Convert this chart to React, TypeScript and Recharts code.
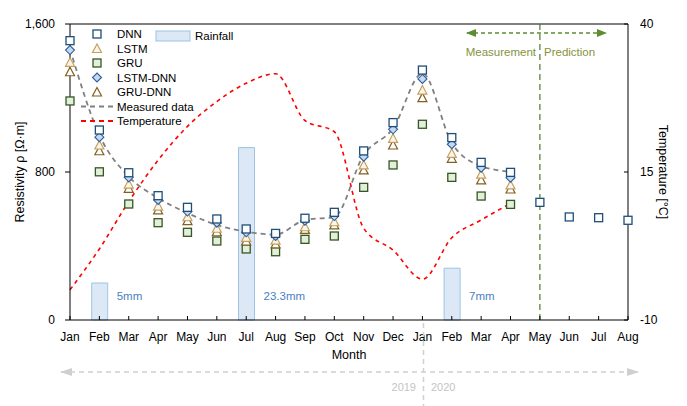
import React from 'react'
import {
  ComposedChart,
  Line,
  Bar,
  XAxis,
  YAxis,
  ReferenceLine,
  LabelList,
} from 'recharts'

const months = [
  'Jan', 'Feb', 'Mar', 'Apr', 'May', 'Jun', 'Jul', 'Aug', 'Sep', 'Oct', 'Nov', 'Dec',
  'Jan', 'Feb', 'Mar', 'Apr', 'May', 'Jun', 'Jul', 'Aug',
]

const dnn = [1510, 1027, 796, 672, 609, 546, 492, 468, 550, 582, 914, 1067, 1351, 986, 852, 798, 636, 557, 553, 539]
const lstmDnn = [1459, 988, 771, 649, 586, 526, 474, 454, 537, 562, 883, 1031, 1303, 950, 823, 769, null, null, null, null]
const lstm = [1393, 946, 735, 616, 558, 496, 447, 432, 504, 531, 838, 982, 1243, 901, 788, 730, null, null, null, null]
const gruDnn = [1342, 915, 712, 595, 537, 477, 427, 411, 490, 514, 811, 946, 1202, 874, 757, 708, null, null, null, null]
const gru = [1184, 801, 627, 526, 474, 427, 384, 369, 436, 454, 717, 838, 1058, 771, 670, 625, null, null, null, null]
const measured = [1465, 1000, 775, 659, 578, 514, 477, 462, 541, 557, 892, 1036, 1333, 957, 832, 802, null, null, null, null]
const temperature = [-4.9, 2.0, 10.0, 17.0, 22.7, 26.9, 30.0, 31.6, 23.7, 21.8, 5.5, 1.8, -3.1, 3.9, 6.9, 9.7, null, null, null, null]
const rainfall = [null, 5, null, null, null, null, 23.3, null, null, null, null, null, null, 7, null, null, null, null, null, null]

const resTicks = [0, 800, 1600]
const tempTicks = [-10, 15, 40]

const data = months.map((m, i) => ({
  idx: i,
  month: m,
  dnn: dnn[i],
  lstmDnn: lstmDnn[i],
  lstm: lstm[i],
  gruDnn: gruDnn[i],
  gru: gru[i],
  measured: measured[i],
  temperature: temperature[i],
  rainfall: rainfall[i],
}))

const FONT = '"Liberation Sans", Arial, sans-serif'

const Square = ({ cx, cy, stroke, fill }: any) => (
  <rect x={cx - 4} y={cy - 4} width={8} height={8} stroke={stroke} strokeWidth={1.3} fill={fill} />
)
const Diamond = ({ cx, cy, stroke, fill }: any) => (
  <polygon points={`${cx},${cy - 4.5} ${cx + 4.5},${cy} ${cx},${cy + 4.5} ${cx - 4.5},${cy}`} stroke={stroke} strokeWidth={1.1} fill={fill} />
)
const Triangle = ({ cx, cy, stroke, fill }: any) => (
  <polygon points={`${cx},${cy - 4.5} ${cx + 4.5},${cy + 4} ${cx - 4.5},${cy + 4}`} stroke={stroke} strokeWidth={1.2} fill={fill} />
)

const marker = (Shape: any, stroke: string, fill: string) => (p: any) => {
  if (p.cy == null || p.value == null) return <g key={p.key} />
  return <Shape key={p.key} cx={p.cx} cy={p.cy} stroke={stroke} fill={fill} />
}

const rainLabel = (p: any) => {
  const { x, y, width, height, value } = p
  if (value == null) return null
  return (
    <text x={x + width + 9} y={y + height - 20} fill="#4a7fc1" fontSize={11.5} fontFamily={FONT}>
      {value}mm
    </text>
  )
}

function Overlay() {
  const rows = [
    { name: 'DNN', shape: <Square cx={97} cy={34} stroke="#1f4e79" fill="#fff" /> },
    { name: 'LSTM', shape: <Triangle cx={97} cy={48.5} stroke="#c4a060" fill="#fbf5ea" /> },
    { name: 'GRU', shape: <Square cx={97} cy={63} stroke="#375623" fill="#e2efda" /> },
    { name: 'LSTM-DNN', shape: <Diamond cx={97} cy={77.5} stroke="#2f5f98" fill="#c5d9f1" /> },
    { name: 'GRU-DNN', shape: <Triangle cx={97} cy={92} stroke="#806020" fill="#fff" /> },
    { name: 'Measured data', shape: <line x1={81} x2={113} y1={106.5} y2={106.5} stroke="#808080" strokeWidth={1.8} strokeDasharray="5 4" /> },
    { name: 'Temperature', shape: <line x1={81} x2={113} y1={121} y2={121} stroke="#ff0000" strokeWidth={1.8} strokeDasharray="5 4" /> },
  ]
  return (
    <svg width={687} height={406} style={{ position: 'absolute', left: 0, top: 0, pointerEvents: 'none' }}>
      <defs>
        <marker id="gArrow" markerWidth="10" markerHeight="8" refX="9" refY="4" orient="auto-start-reverse" markerUnits="userSpaceOnUse">
          <path d="M0,0 L10,4 L0,8 z" fill="#5e8c31" />
        </marker>
        <marker id="grArrow" markerWidth="12" markerHeight="8" refX="11" refY="4" orient="auto-start-reverse" markerUnits="userSpaceOnUse">
          <path d="M0,0 L12,4 L0,8 z" fill="#cfcfcf" />
        </marker>
      </defs>
      {rows.map((r, i) => (
        <g key={r.name}>
          {r.shape}
          <text x={117} y={34 + i * 14.5 + 4} fontSize={11.5} fontFamily={FONT} fill="#000">{r.name}</text>
        </g>
      ))}
      <rect x={156} y={31} width={34} height={10} fill="#dce8f5" stroke="#9dc3e6" />
      <text x={195} y={40} fontSize={11.5} fontFamily={FONT} fill="#000">Rainfall</text>

      <line x1={467} x2={606} y1={33} y2={33} stroke="#5e8c31" strokeWidth={1.3} strokeDasharray="4 3" markerStart="url(#gArrow)" markerEnd="url(#gArrow)" />
      <text x={536} y={56} textAnchor="end" fontSize={11.5} fontFamily={FONT} fill="#86923c">Measurement</text>
      <text x={544} y={56} fontSize={11.5} fontFamily={FONT} fill="#86923c">Prediction</text>

      <line x1={61} x2={638} y1={372} y2={372} stroke="#d0d0d0" strokeWidth={1.5} strokeDasharray="5 4" markerStart="url(#grArrow)" markerEnd="url(#grArrow)" />
      <line x1={423.5} x2={423.5} y1={323} y2={406} stroke="#d0d0d0" strokeWidth={1.5} strokeDasharray="5 4" />
      <text x={416} y={391} textAnchor="end" fontSize={11} fontFamily={FONT} fill="#c4c4c4">2019</text>
      <text x={431} y={391} fontSize={11} fontFamily={FONT} fill="#c4c4c4">2020</text>
    </svg>
  )
}

export default function App() {
  return (
    <div style={{ position: 'absolute', left: 0, top: 0, width: 687, height: 406, background: '#fff' }}>
      <ComposedChart
        width={687}
        height={406}
        data={data}
        margin={{ top: 24, right: 0, bottom: 36, left: 0 }}
        style={{ fontFamily: FONT }}
      >
        <XAxis
          dataKey="idx"
          type="number"
          domain={[0, 19]}
          ticks={months.map((_, i) => i)}
          tickFormatter={(v: number) => months[v]}
          interval={0}
          height={50}
          tickSize={-4}
          tickMargin={16}
          stroke="#000"
          tick={{ fill: '#000', fontSize: 12 }}
          label={{ value: 'Month', position: 'insideBottom', offset: 11, fill: '#000', fontSize: 12.5 }}
        />
        <YAxis
          yAxisId="res"
          domain={[0, 1600]}
          ticks={resTicks}
          width={70}
          tickSize={5}
          tickMargin={10}
          stroke="#000"
          tick={{ fill: '#000', fontSize: 12 }}
          tickFormatter={(v: number) => v.toLocaleString('en-US')}
          label={{ value: 'Resistivity ρ [Ω·m]', angle: -90, position: 'insideLeft', offset: 20, fill: '#000', fontSize: 12.5, style: { textAnchor: 'middle' } }}
        />
        <YAxis
          yAxisId="temp"
          orientation="right"
          domain={[-10, 40]}
          ticks={tempTicks}
          width={59}
          tickSize={-4}
          tickMargin={16}
          stroke="#000"
          tick={{ fill: '#000', fontSize: 12 }}
          label={{ value: 'Temperature [°C]', angle: 90, position: 'insideRight', offset: 24, fill: '#000', fontSize: 12.5, style: { textAnchor: 'middle' } }}
        />
        <YAxis yAxisId="rain" orientation="right" domain={[0, 40]} width={0} hide />

        <ReferenceLine yAxisId="res" y={1600} stroke="#000" strokeWidth={1} />

        <Bar yAxisId="rain" dataKey="rainfall" barSize={16} fill="#dce8f5" stroke="#9dc3e6" strokeWidth={1} isAnimationActive={false}>
          <LabelList dataKey="rainfall" content={rainLabel} />
        </Bar>

        <ReferenceLine yAxisId="res" x={16} stroke="#4e7a2e" strokeWidth={1.2} strokeDasharray="6 4" />

        <Line yAxisId="temp" dataKey="temperature" type="monotone" stroke="#ff0000" strokeWidth={1.6} strokeDasharray="4 4" dot={false} activeDot={false} isAnimationActive={false} />
        <Line yAxisId="res" dataKey="measured" type="monotone" stroke="#808080" strokeWidth={1.8} strokeDasharray="5 4" dot={false} activeDot={false} isAnimationActive={false} />

        <Line yAxisId="res" dataKey="gru" stroke="none" dot={marker(Square, '#375623', '#e2efda')} activeDot={false} isAnimationActive={false} />
        <Line yAxisId="res" dataKey="gruDnn" stroke="none" dot={marker(Triangle, '#806020', '#fff')} activeDot={false} isAnimationActive={false} />
        <Line yAxisId="res" dataKey="lstm" stroke="none" dot={marker(Triangle, '#c4a060', '#fbf5ea')} activeDot={false} isAnimationActive={false} />
        <Line yAxisId="res" dataKey="lstmDnn" stroke="none" dot={marker(Diamond, '#2f5f98', '#c5d9f1')} activeDot={false} isAnimationActive={false} />
        <Line yAxisId="res" dataKey="dnn" stroke="none" dot={marker(Square, '#1f4e79', '#fff')} activeDot={false} isAnimationActive={false} />
      </ComposedChart>
      <Overlay />
    </div>
  )
}
